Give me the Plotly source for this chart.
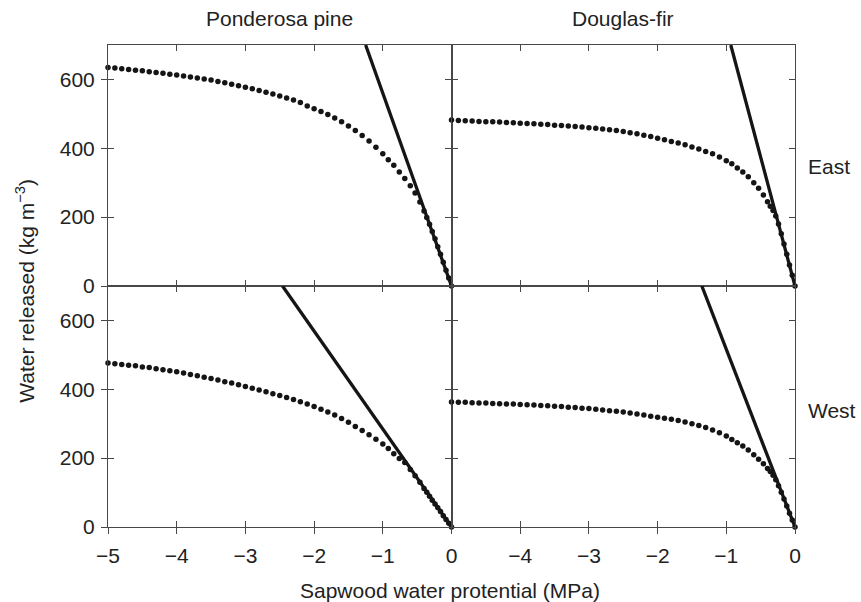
import plotly.graph_objects as go

# ---------------- data ----------------
psi = [-5.0, -4.9, -4.8, -4.7, -4.6, -4.5, -4.4, -4.3, -4.2, -4.1,
       -4.0, -3.9, -3.8, -3.7, -3.6, -3.5, -3.4, -3.3, -3.2, -3.1,
       -3.0, -2.9, -2.8, -2.7, -2.6, -2.5, -2.4, -2.3, -2.2, -2.1,
       -2.0, -1.9, -1.8, -1.7, -1.6, -1.5, -1.4, -1.3, -1.2, -1.1,
       -1.0,
       -0.92, -0.84, -0.76, -0.68, -0.6, -0.53, -0.46,
       -0.4, -0.36, -0.32, -0.28, -0.24, -0.2, -0.16, -0.12, -0.08, -0.04, 0.0]

ponderosa_east = [635, 633, 631, 629, 627, 625, 622, 620, 618, 615,
                  613, 610, 607, 604, 601, 598, 594, 590, 586, 582,
                  577, 573, 568, 563, 558, 552, 546, 540, 533, 523,
                  515, 507, 498, 488, 477, 465, 452, 437, 421, 403,
                  384,
                  367, 351, 331, 312, 291, 270, 244,
                  218, 199, 179, 158, 137, 114, 92, 69, 46, 23, 0]

douglas_east = [482, 481, 480, 479, 478, 477, 477, 476, 475, 474,
                473, 472, 471, 470, 469, 467, 466, 465, 463, 462,
                460, 458, 456, 454, 452, 449, 445, 442, 438, 434,
                429, 425, 420, 415, 410, 404, 398, 391, 384, 375,
                364,
                355, 343, 331, 317, 300, 284, 264,
                245, 232, 219, 203, 180, 152, 122, 92, 61, 31, 0]

ponderosa_west = [476, 474, 472, 470, 468, 465, 463, 460, 457, 454,
                  451, 447, 443, 439, 435, 431, 427, 422, 418, 413,
                  408, 403, 398, 393, 387, 382, 376, 370, 364, 357,
                  350, 342, 334, 325, 315, 304, 292, 280, 268, 255,
                  241,
                  228, 213, 199, 187, 167, 149, 130,
                  112, 101, 89, 78, 67, 56, 45, 33, 22, 11, 0]

douglas_west = [363, 362, 362, 361, 360, 360, 359, 358, 357, 357,
                356, 355, 354, 353, 352, 351, 350, 348, 347, 345,
                344, 342, 340, 338, 336, 334, 331, 328, 325, 322,
                319, 316, 313, 309, 305, 300, 295, 289, 282, 274,
                264,
                254, 245, 235, 224, 210, 197, 184,
                170, 161, 150, 137, 120, 101, 81, 61, 40, 20, 0]

# straight lines through the origin: psi where each line leaves the top of its panel
line_psi_at_top = [-1.25, -0.935, -2.46, -1.356]
line_w_top = 700

species = ["Ponderosa pine", "Douglas-fir"]
regions = ["East", "West"]
x_tick_vals = [-5, -4, -3, -2, -1, 0]
y_tick_vals = [0, 200, 400, 600]

# ---------------- figure ----------------
FONT = "Liberation Sans, Arial, Helvetica, sans-serif"
AX = "#484848"
INK = "#151515"
TXT = "#222222"
FS = 21

series = [ponderosa_east, douglas_east, ponderosa_west, douglas_west]
axes = [("x", "y"), ("x2", "y2"), ("x3", "y3"), ("x4", "y4")]

fig = go.Figure()
for i, (xa, ya) in enumerate(axes):
    fig.add_trace(go.Scatter(
        x=[line_psi_at_top[i], 0], y=[line_w_top, 0], mode="lines",
        line=dict(color=INK, width=3.3), xaxis=xa, yaxis=ya,
        showlegend=False, hoverinfo="skip"))
    fig.add_trace(go.Scatter(
        x=psi, y=series[i], mode="markers",
        marker=dict(color=INK, size=5.5, line=dict(width=0)),
        xaxis=xa, yaxis=ya, showlegend=False, cliponaxis=False))

# empty traces to attach the overlay (outer tick) axes
for xa, ya in [("x", "y5"), ("x3", "y6"), ("x5", "y3"), ("x6", "y4")]:
    fig.add_trace(go.Scatter(x=[], y=[], xaxis=xa, yaxis=ya,
                             showlegend=False, hoverinfo="skip"))

tickfont = dict(family=FONT, size=FS, color=TXT)
base = dict(showline=True, linecolor=AX, linewidth=1.4, mirror="ticks",
            ticks="inside", ticklen=6, tickwidth=1.3, tickcolor=AX,
            showgrid=False, zeroline=False, showticklabels=False)
xbase = dict(base, range=[-5, 0], tickvals=[-4, -3, -2, -1])
ybase = dict(base, range=[0, 700], tickvals=y_tick_vals)
outer = dict(ticks="outside", ticklen=6, tickwidth=1.3, tickcolor=AX,
             showline=False, showgrid=False, zeroline=False,
             showticklabels=True, tickfont=tickfont)

fig.update_layout(
    width=861, height=602,
    margin=dict(l=108, r=66, t=45, b=75),
    paper_bgcolor="white", plot_bgcolor="white",
    xaxis=dict(xbase, domain=[0, 0.5], anchor="y"),
    xaxis2=dict(xbase, domain=[0.5, 1], anchor="y2"),
    xaxis3=dict(xbase, domain=[0, 0.5], anchor="y3"),
    xaxis4=dict(xbase, domain=[0.5, 1], anchor="y4"),
    yaxis=dict(ybase, domain=[0.5, 1], anchor="x"),
    yaxis2=dict(ybase, domain=[0.5, 1], anchor="x2"),
    yaxis3=dict(ybase, domain=[0, 0.5], anchor="x3"),
    yaxis4=dict(ybase, domain=[0, 0.5], anchor="x4"),
    xaxis5=dict(outer, overlaying="x3", anchor="y3", side="bottom",
                range=[-5, 0], tickvals=x_tick_vals, ticklabelstandoff=4),
    xaxis6=dict(outer, overlaying="x4", anchor="y4", side="bottom",
                range=[-5, 0], tickvals=x_tick_vals[1:], ticklabelstandoff=4),
    yaxis5=dict(outer, overlaying="y", anchor="x", side="left",
                range=[0, 700], tickvals=y_tick_vals, ticklabelstandoff=2),
    yaxis6=dict(outer, overlaying="y3", anchor="x3", side="left",
                range=[0, 700], tickvals=y_tick_vals, ticklabelstandoff=2),
    font=dict(family=FONT, size=FS, color=TXT),
)

ann_font = dict(family=FONT, size=FS, color=TXT)
fig.add_annotation(text=species[0], x=0.25, y=1.056, xref="paper", yref="paper",
                   showarrow=False, font=ann_font, xanchor="center", yanchor="middle")
fig.add_annotation(text=species[1], x=0.75, y=1.056, xref="paper", yref="paper",
                   showarrow=False, font=ann_font, xanchor="center", yanchor="middle")
fig.add_annotation(text=regions[0], x=1.016, y=0.747, xref="paper", yref="paper",
                   showarrow=False, font=ann_font, xanchor="left", yanchor="middle")
fig.add_annotation(text=regions[1], x=1.016, y=0.241, xref="paper", yref="paper",
                   showarrow=False, font=ann_font, xanchor="left", yanchor="middle")
fig.add_annotation(text="Water released (kg m<sup>\u22123</sup>)", x=-0.121, y=0.49,
                   xref="paper", yref="paper", textangle=-90, showarrow=False,
                   font=ann_font, xanchor="center", yanchor="middle")
fig.add_annotation(text="Sapwood water protential (MPa)", x=0.498, y=-0.131,
                   xref="paper", yref="paper", showarrow=False, font=ann_font,
                   xanchor="center", yanchor="middle")

fig.write_html("out.html")
